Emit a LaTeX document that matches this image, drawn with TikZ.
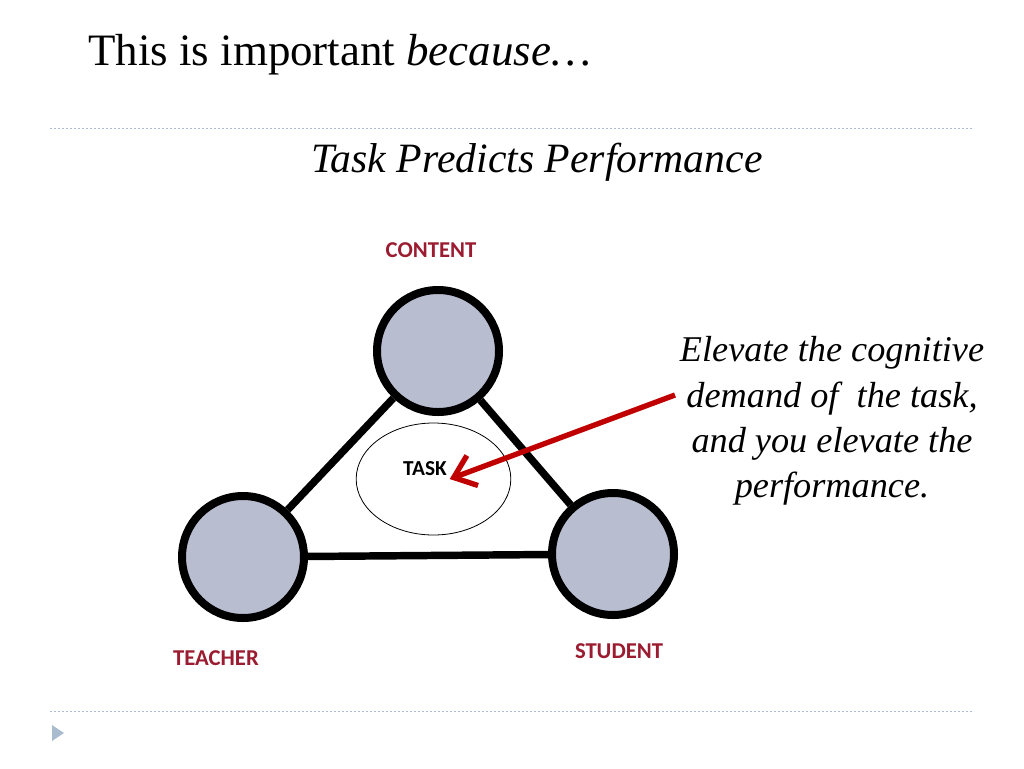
\documentclass[tikz,border=0pt]{standalone}
\usepackage{fontspec}
\setmainfont{Liberation Serif}
\newfontfamily\labelfont{Carlito}
\usetikzlibrary{arrows.meta,shapes.geometric}
\definecolor{label-red}{HTML}{9B1B30}
\definecolor{arrow-red}{HTML}{C00000}
\definecolor{circle-fill}{HTML}{B9BDD0}
\definecolor{rule-blue}{HTML}{A9BCCF}
\tikzset{
    corner-circle/.style = {draw=black, fill=circle-fill, line width=6pt, circle, minimum size=91.5pt, inner sep=0pt},
    corner-label/.style = {text=label-red, font=\labelfont\bfseries\fontsize{17}{20}\selectfont},
    side-line/.style = {draw=black, line width=5.6pt},
    slide-rule/.style = {draw=rule-blue, line width=0.75pt, dash pattern=on 1.5pt off 1.5pt},
}

\begin{document}
\begin{tikzpicture}[x=0.75pt,y=-0.75pt]
\useasboundingbox[fill=white] (0,0) rectangle (1024,768);
\node[anchor=base west, inner sep=0pt, font=\fontsize{33.7}{40}\selectfont] (title) at (88,65) {This is important \textit{because…}};
\draw[slide-rule] (50,128) -- (972,128);
\node[anchor=base, inner sep=0pt, font=\itshape\fontsize{31.3}{38}\selectfont] (subtitle) at (537,172) {Task Predicts Performance};
\node[corner-circle] (content) at (438,351) {};
\node[corner-circle] (teacher) at (243,557) {};
\node[corner-circle] (student) at (613,554) {};
\draw[side-line] (content) -- (teacher);
\draw[side-line] (content) -- (student);
\draw[side-line] (teacher) -- (student);
\node[corner-label] (content-label) at (431,250) {CONTENT};
\node[corner-label] (teacher-label) at (216,658) {TEACHER};
\node[corner-label] (student-label) at (619,651) {STUDENT};
\node[draw, ellipse, line width=0.6pt, minimum width=116pt, minimum height=84pt, inner sep=0pt] (task) at (433.5,479) {};
\node[inner sep=2pt, font=\labelfont\bfseries\fontsize{16}{19}\selectfont] (task-label) at (425,469) {TASK};
\node[align=center, font=\itshape\fontsize{27.2}{34}\selectfont] (claim) at (832,421) {Elevate the cognitive\\demand of\ \ the task,\\and you elevate the\\performance.};
\coordinate (arrow-start) at (675,395);
\draw[arrow-red, line width=4pt, -{Straight Barb[length=15pt,width=24pt]}] (arrow-start) -- (task-label.south east);
\draw[slide-rule] (50,711) -- (972,711);
\fill[rule-blue] (52,725) -- (52,741) -- (64,733) -- cycle;
\end{tikzpicture}
\end{document}
